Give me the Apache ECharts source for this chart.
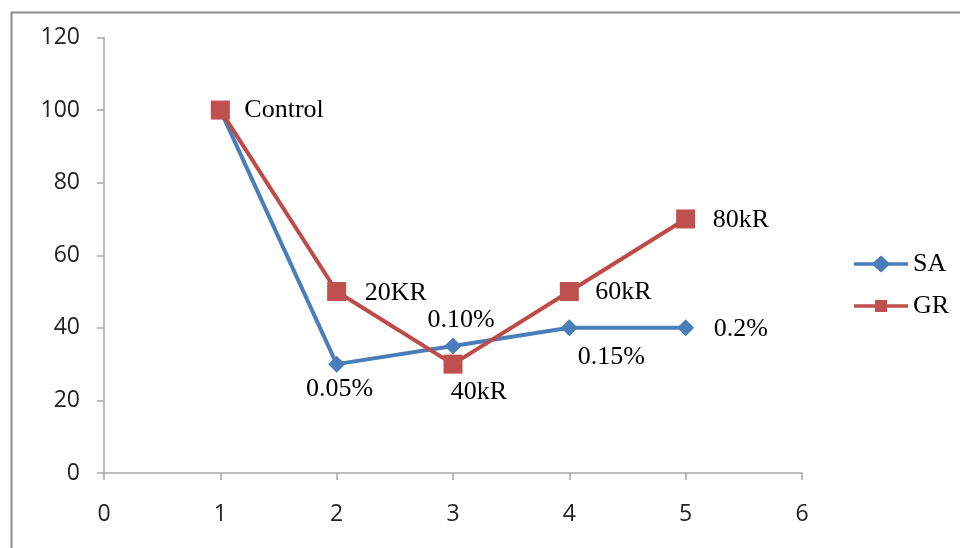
<!DOCTYPE html>
<html>
<head>
<meta charset="utf-8">
<script src="https://cdn.jsdelivr.net/npm/echarts@6/dist/echarts.min.js"></script>
<style>
html,body{margin:0;padding:0;background:#fff;}
#chart{width:960px;height:548px;}
</style>
</head>
<body>
<div id="chart"></div>
<script>
// ---- data ----
var xValues = [1, 2, 3, 4, 5];
var saValues = [100, 30, 35, 40, 40];
var grValues = [100, 50, 30, 50, 70];
var saLabels = ['', '0.05%', '0.10%', '0.15%', '0.2%'];
var grLabels = ['Control', '20KR', '40kR', '60kR', '80kR'];
var yTicks = [0, 20, 40, 60, 80, 100, 120];
var xTicks = [0, 1, 2, 3, 4, 5, 6];

// ---- label placement (style) ----
var saLabelStyle = [
  null,
  {align: 'center', offset: [3, 25]},
  {align: 'center', offset: [8, -26]},
  {align: 'center', offset: [42, 29]},
  {align: 'left', offset: [28, 1]}
];
var grLabelStyle = [
  {align: 'left', offset: [24, 0]},
  {align: 'left', offset: [28, 2]},
  {align: 'center', offset: [26, 28]},
  {align: 'left', offset: [26, 1]},
  {align: 'left', offset: [27, 1]}
];

var labelFont = {fontFamily: 'Liberation Serif', fontSize: 26, color: '#000'};

function build(values, labels, styles) {
  return values.map(function (v, i) {
    var item = {value: [xValues[i], v]};
    var s = styles[i];
    if (s && labels[i]) {
      item.label = {
        show: true,
        position: 'inside',
        formatter: labels[i],
        align: s.align,
        verticalAlign: 'middle',
        offset: s.offset,
        fontFamily: labelFont.fontFamily,
        fontSize: labelFont.fontSize,
        color: labelFont.color
      };
    } else {
      item.label = {show: false};
    }
    return item;
  });
}

var chart = echarts.init(document.getElementById('chart'), null, {renderer: 'canvas'});
var axisColor = '#a6a6a6';
var tickFont = {fontFamily: 'Open Sans', fontSize: 23, color: '#222'};

// legend icons: thick line with marker (54 x 16 box)
var iconSA = 'path://M0,6.2L19.5,6.2L27,-0.5L34.5,6.2L54,6.2L54,9.8L34.5,9.8L27,16.5L19.5,9.8L0,9.8Z';
var iconGR = 'path://M0,6.2L21,6.2L21,2L33,2L33,6.2L54,6.2L54,9.8L33,9.8L33,14L21,14L21,9.8L0,9.8Z';

chart.setOption({
  animation: false,
  backgroundColor: '#fff',
  graphic: [{
    type: 'rect',
    left: 9, top: 10,
    shape: {width: 1000, height: 600},
    style: {fill: 'none', stroke: '#8c8c8c', lineWidth: 2},
    silent: true
  }],
  grid: {left: 104, right: 158, top: 37.5, bottom: 75, containLabel: false},
  xAxis: {
    type: 'value', min: xTicks[0], max: xTicks[xTicks.length - 1], interval: 1,
    splitLine: {show: false},
    axisLine: {show: true, lineStyle: {color: axisColor, width: 1.5}},
    axisTick: {show: true, length: 7, inside: false, lineStyle: {color: axisColor, width: 1.5}},
    axisLabel: Object.assign({margin: 30}, tickFont)
  },
  yAxis: {
    type: 'value', min: yTicks[0], max: yTicks[yTicks.length - 1], interval: 20,
    splitLine: {show: false},
    axisLine: {show: true, lineStyle: {color: axisColor, width: 1.5}},
    axisTick: {show: true, length: 7, inside: false, lineStyle: {color: axisColor, width: 1.5}},
    axisLabel: Object.assign({margin: 24}, tickFont)
  },
  legend: {
    orient: 'vertical',
    left: 849, top: 245,
    itemWidth: 54, itemHeight: 17, itemGap: 14,
    textStyle: {fontFamily: 'Liberation Serif', fontSize: 26, color: '#000', padding: [0, 0, 0, 0], lineHeight: 28},
    data: [{name: 'SA', icon: iconSA}, {name: 'GR', icon: iconGR}]
  },
  series: [
    {
      name: 'SA', type: 'line',
      data: build(saValues, saLabels, saLabelStyle),
      symbol: 'diamond', symbolSize: [17, 17],
      lineStyle: {color: '#4a7ebb', width: 4},
      itemStyle: {color: '#4a7ebb'},
      z: 2
    },
    {
      name: 'GR', type: 'line',
      data: build(grValues, grLabels, grLabelStyle),
      symbol: 'rect', symbolSize: 19,
      lineStyle: {color: '#be4b48', width: 4},
      itemStyle: {color: '#c0504d'},
      z: 3
    }
  ]
});
</script>
</body>
</html>
